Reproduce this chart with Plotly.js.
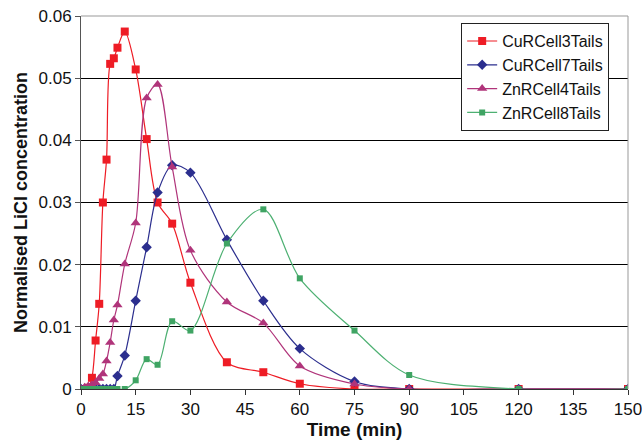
<!DOCTYPE html>
<html>
<head>
<meta charset="utf-8">
<script src="https://cdn.plot.ly/plotly-3.0.1.min.js"></script>
<style>html,body{margin:0;padding:0;background:#fff;}#chart{width:642px;height:441px;}</style>
</head>
<body>
<div id="chart"></div>
<script>
// Time (min)
const time = [0, 1, 2, 3, 4, 5, 6, 7, 8, 9, 10, 12, 15, 18, 21, 25, 30, 40, 50, 60, 75, 90, 120, 150];
const seriesNames = ["CuRCell3Tails", "CuRCell7Tails", "ZnRCell4Tails", "ZnRCell8Tails"];
const cu3 = [0, 0, 0.0002, 0.0018, 0.0078, 0.0137, 0.0300, 0.0369, 0.0523, 0.0532, 0.0549, 0.0575, 0.0514, 0.0402, 0.0300, 0.0266, 0.0171, 0.0043, 0.0027, 0.00085, 0, 0, 0, 0];
const cu7 = [0, 0, 0, 0, 0, 0, 0, 0, 0, 0, 0.0021, 0.0054, 0.0142, 0.0228, 0.0316, 0.0360, 0.0348, 0.0240, 0.0142, 0.0065, 0.0012, 0, 0, 0];
const zn4 = [0, 0.0003, 0.0005, 0.0007, 0.0010, 0.0017, 0.0024, 0.0045, 0.0075, 0.0111, 0.0135, 0.0201, 0.0267, 0.0468, 0.0490, 0.0357, 0.0223, 0.0140, 0.0106, 0.0037, 0.0008, 0, 0, 0];
const zn8 = [0, 0, 0, 0, 0, 0, 0, 0, 0, 0, 0, 0, 0.0014, 0.0048, 0.0039, 0.0109, 0.0094, 0.0234, 0.0289, 0.0178, 0.0094, 0.00225, 0, 0];
const xTicks = [0, 15, 30, 45, 60, 75, 90, 105, 120, 135, 150];
const yTicks = [0, 0.01, 0.02, 0.03, 0.04, 0.05, 0.06];

const styles = [
  {line: '#EE1C25', marker: '#EE1C25', symbol: 'square', size: 8},
  {line: '#2B2E8E', marker: '#2B2E8E', symbol: 'diamond', size: 8},
  {line: '#B0347A', marker: '#B0347A', symbol: 'triangle-up', size: 9},
  {line: '#4DB072', marker: '#3FA463', symbol: 'square', size: 6}
];
const values = [cu3, cu7, zn4, zn8];
const traces = values.map((v, i) => ({
  x: time, y: v, name: seriesNames[i], type: 'scatter', mode: 'lines+markers',
  line: {color: styles[i].line, width: 1.2, shape: 'spline', smoothing: 0.9},
  marker: {color: styles[i].marker, symbol: styles[i].symbol, size: styles[i].size}
}));

const fam = 'Arial, "Liberation Sans", sans-serif';
const font = {family: fam, size: 17, color: '#111'};
const layout = {
  width: 642, height: 441,
  margin: {l: 81, r: 14, t: 16, b: 52},
  paper_bgcolor: '#fff', plot_bgcolor: '#fff',
  font: font,
  showlegend: true,
  legend: {x: 0.695, y: 0.981, xanchor: 'left', yanchor: 'top', bgcolor: '#fff',
    bordercolor: '#222', borderwidth: 1, font: {family: fam, size: 16, color: '#111'},
    tracegroupgap: 0, itemwidth: 30},
  xaxis: {
    range: [0, 150], tickvals: xTicks, ticktext: xTicks.map(String),
    showgrid: false, zeroline: false, showline: true, linecolor: '#333', linewidth: 1,
    ticks: 'outside', ticklen: 5, tickcolor: '#333', ticklabeloverflow: 'allow',
    title: {text: '<b>Time (min)</b>', font: {family: fam, size: 19, color: '#111'}, standoff: 3},
    tickfont: font
  },
  yaxis: {
    range: [0, 0.06], tickvals: yTicks, ticktext: yTicks.map(v => v === 0 ? '0' : v.toFixed(2)),
    showgrid: true, gridcolor: '#000', gridwidth: 1, zeroline: false,
    showline: true, linecolor: '#555', linewidth: 1,
    ticks: 'outside', ticklen: 5, tickcolor: '#555', ticklabeloverflow: 'allow',
    title: {text: '<b>Normalised LiCl concentration</b>', font: {family: fam, size: 18, color: '#111'}, standoff: 6},
    tickfont: font
  },
  shapes: [
    {type: 'line', xref: 'paper', yref: 'paper', x0: 0, x1: 1, y0: 1, y1: 1, line: {color: '#999', width: 1}},
    {type: 'line', xref: 'paper', yref: 'paper', x0: 1, x1: 1, y0: 0, y1: 1, line: {color: '#999', width: 1}}
  ]
};
Plotly.newPlot('chart', traces, layout, {displayModeBar: false, staticPlot: true});
</script>
</body>
</html>
